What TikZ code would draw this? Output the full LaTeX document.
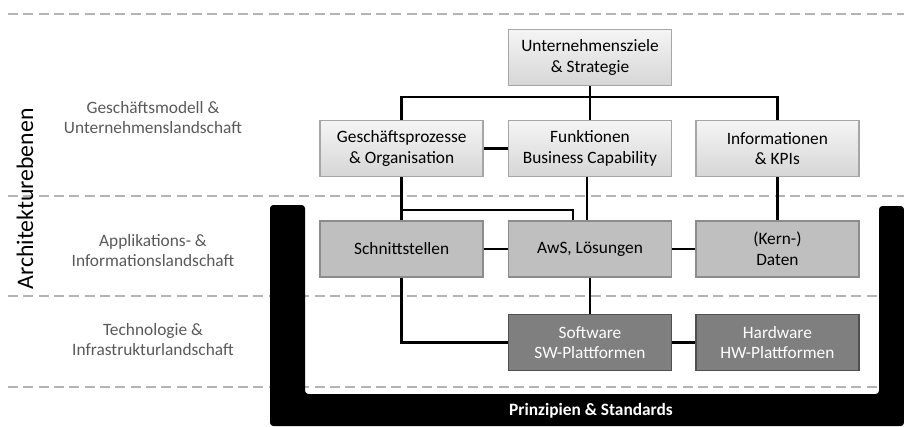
\documentclass[tikz,border=0pt]{standalone}
\usepackage{fontspec}
\setmainfont{Carlito}
\usetikzlibrary{positioning}

\definecolor{ebenegrau}{RGB}{89,89,89}
\definecolor{strichgrau}{RGB}{180,180,180}
\definecolor{randhell}{RGB}{166,166,166}
\definecolor{mittelgrau}{RGB}{191,191,191}
\definecolor{dunkelgrau}{RGB}{127,127,127}
\definecolor{randdunkel}{RGB}{80,80,80}

\tikzset{every picture/.style={line width=0.75pt},
  ebene/.style={dash pattern=on 7.5pt off 4pt, draw=strichgrau, line width=1.5pt},
  kasten/.style={minimum width=122.25pt, minimum height=42pt, align=center, font=\fontsize{13}{15.5}\selectfont, line width=1.1pt, inner sep=0pt},
  kastenhell/.style={kasten, draw=randhell, top color=black!4, bottom color=black!16},
  kastenmittel/.style={kasten, draw=black!45, fill=mittelgrau},
  kastendunkel/.style={kasten, draw=randdunkel, fill=dunkelgrau, text=white},
  ebenentext/.style={align=center, text=ebenegrau, font=\fontsize{13}{15}\selectfont},
  verbindung/.style={line width=2pt}
}

\begin{document}
\begin{tikzpicture}[x=0.75pt,y=0.75pt,yscale=-1,xscale=1]
\useasboundingbox (0,0) rectangle (904,426);

%Straight Lines: Ebenen
\draw [ebene] (8,14) -- (904,14) ;
\draw [ebene] (8,196) -- (904,196) ;
\draw [ebene] (8,296) -- (904,296) ;
\draw [ebene] (8,387) -- (904,387) ;

%Shape: Prinzipien & Standards
\fill [rounded corners=2.5pt] (270,426) -- (270,205) -- (305,205) -- (305,394) -- (879,394) -- (879,206) -- (904,206) -- (904,426) -- cycle ;
\draw (591,411) node [text=white, font=\fontsize{13}{15}\selectfont\bfseries] (prinz) {Prinzipien \& Standards};

% Text Node
\draw (25,199) node [rotate=90, font=\fontsize{17.8}{20}\selectfont] (titel) {Architekturebenen};
% Text Node
\draw (153,118) node [ebenentext] (geschaeft) {Geschäftsmodell \&\\Unternehmenslandschaft};
% Text Node
\draw (153,251) node [ebenentext] (appl) {Applikations- \&\\Informationslandschaft};
% Text Node
\draw (153,340) node [ebenentext] (tech) {Technologie \&\\Infrastrukturlandschaft};

%Shape: Rectangle
\node [kastenhell] (ziele) at (590,57.5) {Unternehmensziele\\\& Strategie};
\node [kastenhell] (gp) at (401.7,148.5) {Geschäftsprozesse\\\& Organisation};
\node [kastenhell] (fk) at (590,148.5) {Funktionen\\Business Capability};
\node [kastenhell] (info) at (777.4,148.5) {Informationen\\\& KPIs};

\node [kastenmittel] (sst) at (401.7,249) {Schnittstellen};
\node [kastenmittel] (aws) at (590,249) {AwS, Lösungen};
\node [kastenmittel] (daten) at (777.4,249) {(Kern-)\\Daten};

\node [kastendunkel] (sw) at (590,342.5) {Software\\SW-Plattformen};
\node [kastendunkel] (hw) at (777.4,342.5) {Hardware\\HW-Plattformen};

%Straight Lines: Verbindungen
\coordinate (bus) at (590,97) ;
\coordinate (knick) at (573,210) ;
\draw [verbindung] (ziele) -- (bus) ;
\draw [verbindung] (gp.north) |- (bus) -| (info.north) ;
\draw [verbindung] (bus) -- (fk) ;
\draw [verbindung] (gp) -- (fk) ;
\draw [verbindung] (gp) -- (sst) ;
\draw [verbindung] (gp.south |- knick) -| (knick |- aws.north) ;
\draw [verbindung] ([xshift=-2.25pt]fk.south) -- ([xshift=-2.25pt]aws.north) ;
\draw [verbindung] (info) -- (daten) ;
\draw [verbindung] (sst) -- (aws) ;
\draw [verbindung] (aws) -- (daten) ;
\draw [verbindung] (aws) -- (sw) ;
\draw [verbindung] (sst.south) |- (sw.west) ;
\draw [verbindung] (sw) -- (hw) ;

\end{tikzpicture}
\end{document}
